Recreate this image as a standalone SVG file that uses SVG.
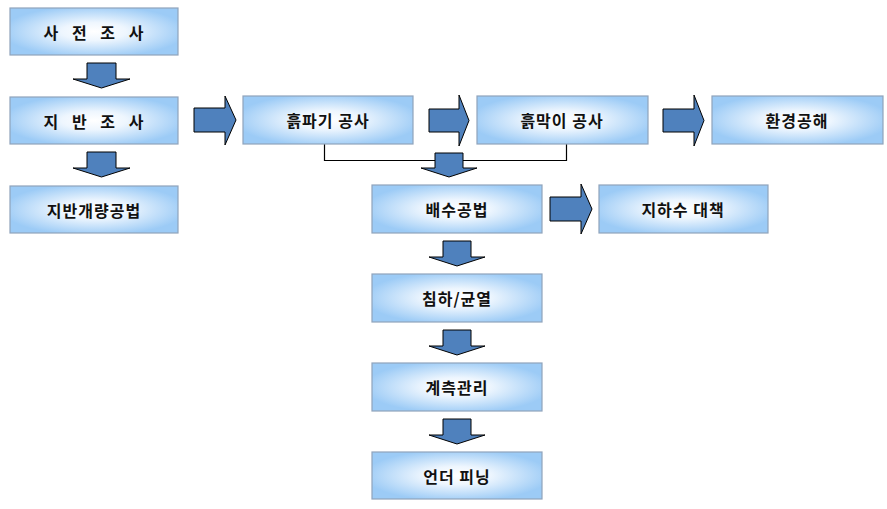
<svg xmlns="http://www.w3.org/2000/svg" width="887" height="509" viewBox="0 0 887 509">
<defs>
<radialGradient id="g" cx="50%" cy="50%" r="55%">
<stop offset="0" stop-color="#ffffff"/>
<stop offset="0.35" stop-color="#eef6fe"/>
<stop offset="1" stop-color="#9ccbf6"/>
</radialGradient>
<style>
.box{fill:url(#g);stroke:#8fa3bb;stroke-width:1.2}
.t{font-family:"Noto Sans CJK KR","Noto Sans",sans-serif;font-size:16px;font-weight:bold;fill:#111;text-anchor:middle;dominant-baseline:central;letter-spacing:1px}
.w{letter-spacing:5px}
.ar{fill:#4f81bd;stroke:#000;stroke-width:1}
.ln{fill:none;stroke:#000;stroke-width:1.2}
</style>
</defs>
<g id="connectors">
<path class="ln" d="M324.5,144 V160.5 H566.5 V144"/>
<path class="ar" d="M87,63 H116 V79 H130 L101.5,88 L73,79 H87 Z"/>
<path class="ar" d="M87,152 H116 V168 H130 L101.5,177 L73,168 H87 Z"/>
<path class="ar" d="M435,153 H463 V168 H477 L449,177 L421,168 H435 Z"/>
<path class="ar" d="M443,241 H471 V257 H485 L457,266 L429,257 H443 Z"/>
<path class="ar" d="M443,330 H471 V346 H485 L457,355 L429,346 H443 Z"/>
<path class="ar" d="M443,419 H471 V435 H485 L457,444 L429,435 H443 Z"/>
<path class="ar" d="M194,108 H225 V96 L236,120 L225,145 V132 H194 Z"/>
<path class="ar" d="M429,109 H459 V95 L469,120.5 L459,146 V132 H429 Z"/>
<path class="ar" d="M663,109 H694 V95 L704,120.5 L694,146 V132 H663 Z"/>
<path class="ar" d="M550,197 H581 V184 L592,209 L581,234 V221 H550 Z"/>
</g>
<g id="n1"><rect class="box" x="10" y="8" width="168" height="47"/><text class="t w" x="96" y="32">사 전 조 사</text></g>
<g id="n2"><rect class="box" x="10" y="97" width="168" height="47"/><text class="t w" x="96" y="121">지 반 조 사</text></g>
<g id="n3"><rect class="box" x="10" y="186" width="168" height="47"/><text class="t" x="94" y="210">지반개량공법</text></g>
<g id="n4"><rect class="box" x="243" y="96" width="170" height="48"/><text class="t" x="328" y="120">흙파기 공사</text></g>
<g id="n5"><rect class="box" x="477" y="96" width="171" height="48"/><text class="t" x="562" y="120">흙막이 공사</text></g>
<g id="n6"><rect class="box" x="712" y="96" width="171" height="48"/><text class="t" x="797" y="120">환경공해</text></g>
<g id="n7"><rect class="box" x="372" y="185" width="170" height="48"/><text class="t" x="457" y="209">배수공법</text></g>
<g id="n8"><rect class="box" x="599" y="185" width="169" height="48"/><text class="t" x="683" y="209">지하수 대책</text></g>
<g id="n9"><rect class="box" x="372" y="274" width="170" height="48"/><text class="t" x="457" y="298">침하/균열</text></g>
<g id="n10"><rect class="box" x="372" y="363" width="170" height="48"/><text class="t" x="457" y="387">계측관리</text></g>
<g id="n11"><rect class="box" x="372" y="452" width="170" height="47"/><text class="t" x="457" y="476">언더 피닝</text></g>
</svg>
